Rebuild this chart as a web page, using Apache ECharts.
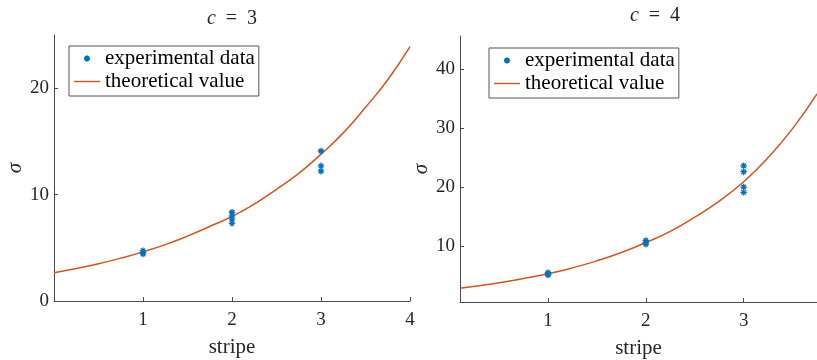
<!DOCTYPE html>
<html>
<head>
<meta charset="utf-8">
<script src="https://cdn.jsdelivr.net/npm/echarts@6/dist/echarts.min.js"></script>
<style>html,body{margin:0;padding:0;background:#fff}#c{width:817px;height:360px}</style>
</head>
<body>
<div id="c"></div>
<script>
// ---- data ----
const c3ExpX = [1, 1, 1, 2, 2, 2, 2, 3, 3, 3];
const c3ExpY = [4.73, 4.55, 4.42, 8.34, 8.0, 7.7, 7.3, 14.1, 12.7, 12.2];
const c4ExpX = [1, 1, 1, 2, 2, 2, 3, 3, 3, 3];
const c4ExpY = [5.48, 5.3, 5.1, 10.95, 10.6, 10.3, 23.6, 22.6, 20.0, 19.1];

const c3TheoX = [0, 0.25, 0.5, 0.75, 1, 1.25, 1.5, 1.75, 2, 2.25, 2.5, 2.75, 3, 3.25, 3.5, 3.75, 4];
const c3TheoY = [2.66, 3.05, 3.5, 4.03, 4.62, 5.3, 6.1, 7.0, 7.95, 9.1, 10.5, 12.0, 13.8, 15.8, 18.2, 20.8, 23.9];
const c4TheoX = [0.1, 0.25, 0.5, 0.75, 1, 1.25, 1.5, 1.75, 2, 2.25, 2.5, 2.75, 3, 3.25, 3.5, 3.75];
const c4TheoY = [2.87, 3.17, 3.77, 4.5, 5.3, 6.3, 7.5, 8.9, 10.6, 12.5, 14.9, 17.6, 20.9, 25.0, 29.9, 35.8];

const c3XTicks = [1, 2, 3, 4];
const c3YTicks = [0, 10, 20];
const c4XTicks = [1, 2, 3];
const c4YTicks = [10, 20, 30, 40];

const titles = ['3', '4'];
const xName = 'stripe';
const yName = 'σ';
const expName = 'experimental data';
const theoName = 'theoretical value';

// ---- styling ----
const FONT = 'Liberation Serif';
const BLUE = '#0072BD';
const ORANGE = '#D95319';
const AXIS = '#4a4a4a';
const TXT = '#262626';
const STAR = 'path://M5 0L5 10M0 5L10 5M1.5 1.5L8.5 8.5M1.5 8.5L8.5 1.5';
const STAR_LEGEND = 'path://M0 0M26 18M13 6L13 12M10 9L16 9M10.9 6.9L15.1 11.1M10.9 11.1L15.1 6.9';
const LINE_LEGEND = 'path://M0 0M26 18M0 8.3L26 8.3L26 9.7L0 9.7Z';

function zip(xs, ys) { return xs.map((x, i) => [x, ys[i]]); }

function xAxis(gi, min, max, ticks) {
  return {
    type: 'value', gridIndex: gi, min: min, max: max,
    name: xName, nameLocation: 'middle', nameGap: 36,
    nameTextStyle: { fontFamily: FONT, fontSize: 21, color: TXT },
    axisLine: { show: true, lineStyle: { color: AXIS, width: 1 } },
    axisTick: { show: true, inside: true, length: 4, customValues: ticks, lineStyle: { color: AXIS } },
    axisLabel: { customValues: ticks, fontFamily: FONT, fontSize: 19, color: TXT, margin: 10 },
    splitLine: { show: false }
  };
}
function yAxis(gi, min, max, ticks) {
  return {
    type: 'value', gridIndex: gi, min: min, max: max,
    name: yName, nameLocation: 'middle', nameGap: 25, nameRotate: 90,
    nameTextStyle: { fontFamily: FONT, fontSize: 21, fontStyle: 'italic', color: TXT },
    axisLine: { show: true, lineStyle: { color: AXIS, width: 1 } },
    axisTick: { show: true, inside: true, length: 4, customValues: ticks, lineStyle: { color: AXIS } },
    axisLabel: { customValues: ticks, fontFamily: FONT, fontSize: 19, color: TXT, margin: 5 },
    splitLine: { show: false }
  };
}
function legend(left, top) {
  return {
    left: left, top: top, orient: 'vertical',
    backgroundColor: '#fff', borderColor: '#555', borderWidth: 1,
    padding: [2, 4, 4, 4], itemGap: 2, itemWidth: 26, itemHeight: 18,
    textStyle: { fontFamily: FONT, fontSize: 21, color: '#000' },
    selectedMode: false,
    data: [{ name: expName, icon: STAR_LEGEND }, { name: theoName, icon: LINE_LEGEND }]
  };
}
function titleText(x, y, t) {
  return {
    type: 'text', x: x, y: y,
    style: {
      text: '{i|c}\u2002=\u2002' + t, align: 'center', fontFamily: FONT, fontSize: 20, fill: TXT,
      rich: { i: { fontStyle: 'italic', fontFamily: FONT, fontSize: 20 } }
    }
  };
}

const chart = echarts.init(document.getElementById('c'), null, { renderer: 'canvas' });
chart.setOption({
  animation: false,
  backgroundColor: '#fff',
  grid: [
    { left: 54, top: 35, width: 356, height: 266, outerBoundsMode: 'none', containLabel: false },
    { left: 460, top: 36, width: 357, height: 266, outerBoundsMode: 'none', containLabel: false }
  ],
  xAxis: [xAxis(0, 0, 4, c3XTicks), xAxis(1, 0.1, 3.75, c4XTicks)],
  yAxis: [yAxis(0, 0, 25, c3YTicks), yAxis(1, 0.52, 45.6, c4YTicks)],
  legend: [legend(69, 46), legend(489, 48)],
  graphic: [titleText(232, 9, titles[0]), titleText(655, 6, titles[1])],
  series: [
    { type: 'line', name: theoName, xAxisIndex: 0, yAxisIndex: 0, data: zip(c3TheoX, c3TheoY), smooth: true, symbol: 'none', lineStyle: { color: ORANGE, width: 1.5 }, itemStyle: { color: ORANGE }, z: 2 },
    { type: 'scatter', name: expName, xAxisIndex: 0, yAxisIndex: 0, data: zip(c3ExpX, c3ExpY), symbol: STAR, symbolSize: 6.5, itemStyle: { color: BLUE, borderColor: BLUE, borderWidth: 1.3, opacity: 1 }, z: 3 },
    { type: 'line', name: theoName, xAxisIndex: 1, yAxisIndex: 1, data: zip(c4TheoX, c4TheoY), smooth: true, symbol: 'none', lineStyle: { color: ORANGE, width: 1.5 }, itemStyle: { color: ORANGE }, z: 2 },
    { type: 'scatter', name: expName, xAxisIndex: 1, yAxisIndex: 1, data: zip(c4ExpX, c4ExpY), symbol: STAR, symbolSize: 6.5, itemStyle: { color: BLUE, borderColor: BLUE, borderWidth: 1.3, opacity: 1 }, z: 3 }
  ]
});
</script>
</body>
</html>
